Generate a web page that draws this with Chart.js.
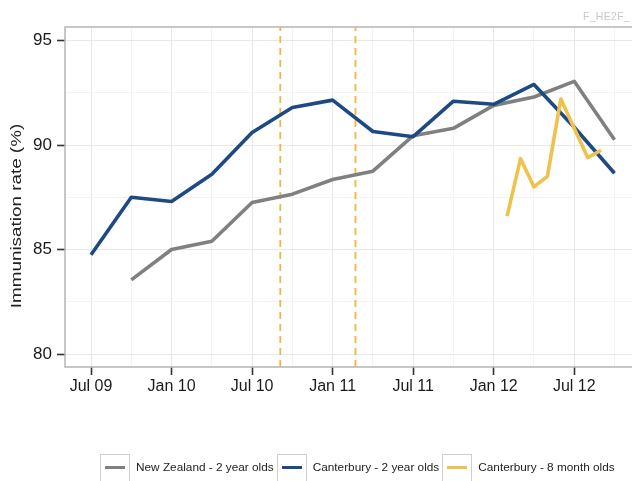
<!DOCTYPE html>
<html><head><meta charset="utf-8">
<script src="https://cdn.jsdelivr.net/npm/chart.js@4"></script>
<style>
html,body{margin:0;padding:0;background:#fff;overflow:hidden;width:632px;height:481px;}
#wrap{position:relative;width:632px;height:481px;overflow:hidden;}
#c{position:absolute;left:0;top:0;}
#tag{position:absolute;left:583px;top:10px;font:10.5px "Liberation Sans",Arial,sans-serif;color:#c9c9c9;white-space:nowrap;letter-spacing:0.3px;}
#legend{position:absolute;left:100px;top:454px;display:flex;font:11.8px "Liberation Sans",Arial,sans-serif;color:#222;white-space:nowrap;}
.item{display:flex;align-items:flex-start;margin-right:3px}
.key{width:30px;height:32px;border:1px solid #cfcfcf;box-sizing:border-box;position:relative;margin-right:6px}
.key span{position:absolute;left:4px;right:4px;top:11px;height:3px}
.lab{margin-top:6px;line-height:14px}
</style></head>
<body>
<div id="wrap">
<canvas id="c" width="660" height="481"></canvas>
<div id="tag">F_HE2F_</div>
<div id="legend"></div>
</div>
<script>
// ---- data (x = months since July 2009) ----
const xTickMonths = [0, 6, 12, 18, 24, 30, 36];
const xTickLabels = ['Jul 09', 'Jan 10', 'Jul 10', 'Jan 11', 'Jul 11', 'Jan 12', 'Jul 12'];
const yTickValues = [80, 85, 90, 95];

const canterbury2yrMonths = [0, 3, 6, 9, 12, 15, 18, 21, 24, 27, 30, 33, 36, 39];
const canterbury2yr = [84.75, 87.5, 87.3, 88.6, 90.6, 91.8, 92.15, 90.65, 90.4, 92.1, 91.95, 92.9, 90.85, 88.65];

const nz2yrMonths = [3, 6, 9, 12, 15, 18, 21, 24, 27, 30, 33, 36, 39];
const nz2yr = [83.55, 85.0, 85.4, 87.25, 87.65, 88.35, 88.75, 90.45, 90.8, 91.9, 92.3, 93.05, 90.25];

const canterbury8mMonths = [31, 32, 33, 34, 35, 36, 37, 38];
const canterbury8m = [86.6, 89.35, 88.0, 88.5, 92.2, 90.8, 89.4, 89.75];

const earthquakeMonths = [14.1, 19.7];

const seriesNames = ['New Zealand - 2 year olds', 'Canterbury - 2 year olds', 'Canterbury - 8 month olds'];
const seriesColors = ['#808080', '#1d4a84', '#eec24c'];

const X_MIN = -1.94, X_MAX = 40.9, Y_MIN = 79.38, Y_MAX = 95.65;

function pts(xs, ys) { return xs.map((x, i) => ({ x: x, y: ys[i] })); }

const lineBase = { borderWidth: 3.6, pointRadius: 0, fill: false, tension: 0, borderJoinStyle: 'round' };

const datasets = [
  Object.assign({ label: seriesNames[2], data: pts(canterbury8mMonths, canterbury8m), borderColor: seriesColors[2] }, lineBase),
  Object.assign({ label: seriesNames[1], data: pts(canterbury2yrMonths, canterbury2yr), borderColor: seriesColors[1] }, lineBase),
  Object.assign({ label: seriesNames[0], data: pts(nz2yrMonths, nz2yr), borderColor: seriesColors[0] }, lineBase)
];
earthquakeMonths.forEach(m => {
  datasets.push({ label: 'event', data: [{ x: m, y: Y_MIN }, { x: m, y: Y_MAX }], borderColor: '#f2b443', borderWidth: 1.8, borderDash: [7, 5], pointRadius: 0, fill: false });
});

const panelPlugin = {
  id: 'panel',
  beforeDatasetsDraw(chart) {
    const a = chart.chartArea, ctx = chart.ctx;
    ctx.save();
    ctx.strokeStyle = '#b5b5b5';
    ctx.lineWidth = 1.5;
    ctx.strokeRect(a.left, a.top, a.right - a.left, a.bottom - a.top);
    ctx.restore();
  },
  afterDraw(chart) {
    const ctx = chart.ctx;
    ctx.save();
    ctx.translate(17, 216);
    ctx.rotate(-Math.PI / 2);
    ctx.scale(1.3, 1);
    ctx.textAlign = 'center';
    ctx.textBaseline = 'middle';
    ctx.fillStyle = '#222';
    ctx.font = '14.5px "Liberation Sans", Arial, sans-serif';
    ctx.fillText('Immunisation rate (%)', 0, 0);
    ctx.restore();
  }
};

const xMajor = v => xTickMonths.indexOf(v) >= 0;
const yMajor = v => yTickValues.indexOf(v) >= 0;

new Chart(document.getElementById('c'), {
  type: 'line',
  data: { datasets: datasets },
  plugins: [panelPlugin],
  options: {
    responsive: false,
    animation: false,
    devicePixelRatio: 1,
    layout: { padding: { top: 27, right: 20, bottom: 84, left: 0 } },
    plugins: { legend: { display: false }, tooltip: { enabled: false } },
    scales: {
      x: {
        type: 'linear', min: X_MIN, max: X_MAX,
        afterBuildTicks: s => {
          const t = [];
          for (let m = 0; m <= 39; m += 3) t.push({ value: m });
          s.ticks = t;
        },
        afterFit: s => { s.height = 30; },
        border: { display: false },
        grid: {
          color: c => (c.tick && xMajor(c.tick.value)) ? '#e8e8e8' : '#f3f3f3',
          tickColor: c => (c.tick && xMajor(c.tick.value)) ? '#333' : 'rgba(0,0,0,0)',
          tickLength: 8, tickWidth: 1.6, lineWidth: 1
        },
        ticks: {
          autoSkip: false, maxRotation: 0, padding: 2, color: '#1a1a1a',
          font: { family: '"Liberation Sans", Arial, sans-serif', size: 16 },
          callback: v => { const i = xTickMonths.indexOf(v); return i >= 0 ? xTickLabels[i] : ''; }
        }
      },
      y: {
        type: 'linear', min: Y_MIN, max: Y_MAX,
        afterBuildTicks: s => {
          const t = [];
          for (let v = 80; v <= 95; v += 2.5) t.push({ value: v });
          s.ticks = t;
        },
        afterFit: s => { s.width = 65; },
        border: { display: false },
        grid: {
          color: c => (c.tick && yMajor(c.tick.value)) ? '#e8e8e8' : '#f3f3f3',
          tickColor: c => (c.tick && yMajor(c.tick.value)) ? '#333' : 'rgba(0,0,0,0)',
          tickLength: 8, tickWidth: 1.6, lineWidth: 1
        },
        ticks: {
          padding: 5, color: '#1a1a1a',
          font: { family: '"Liberation Sans", Arial, sans-serif', size: 17 },
          callback: v => yMajor(v) ? String(v) : ''
        }
      }
    }
  }
});

// HTML legend built from series arrays
const legend = document.getElementById('legend');
seriesNames.forEach((n, i) => {
  const it = document.createElement('div'); it.className = 'item';
  const k = document.createElement('div'); k.className = 'key';
  const ln = document.createElement('span'); ln.style.background = seriesColors[i];
  k.appendChild(ln);
  const t = document.createElement('div'); t.className = 'lab'; t.textContent = n;
  it.appendChild(k); it.appendChild(t);
  legend.appendChild(it);
});
</script>
</body></html>
